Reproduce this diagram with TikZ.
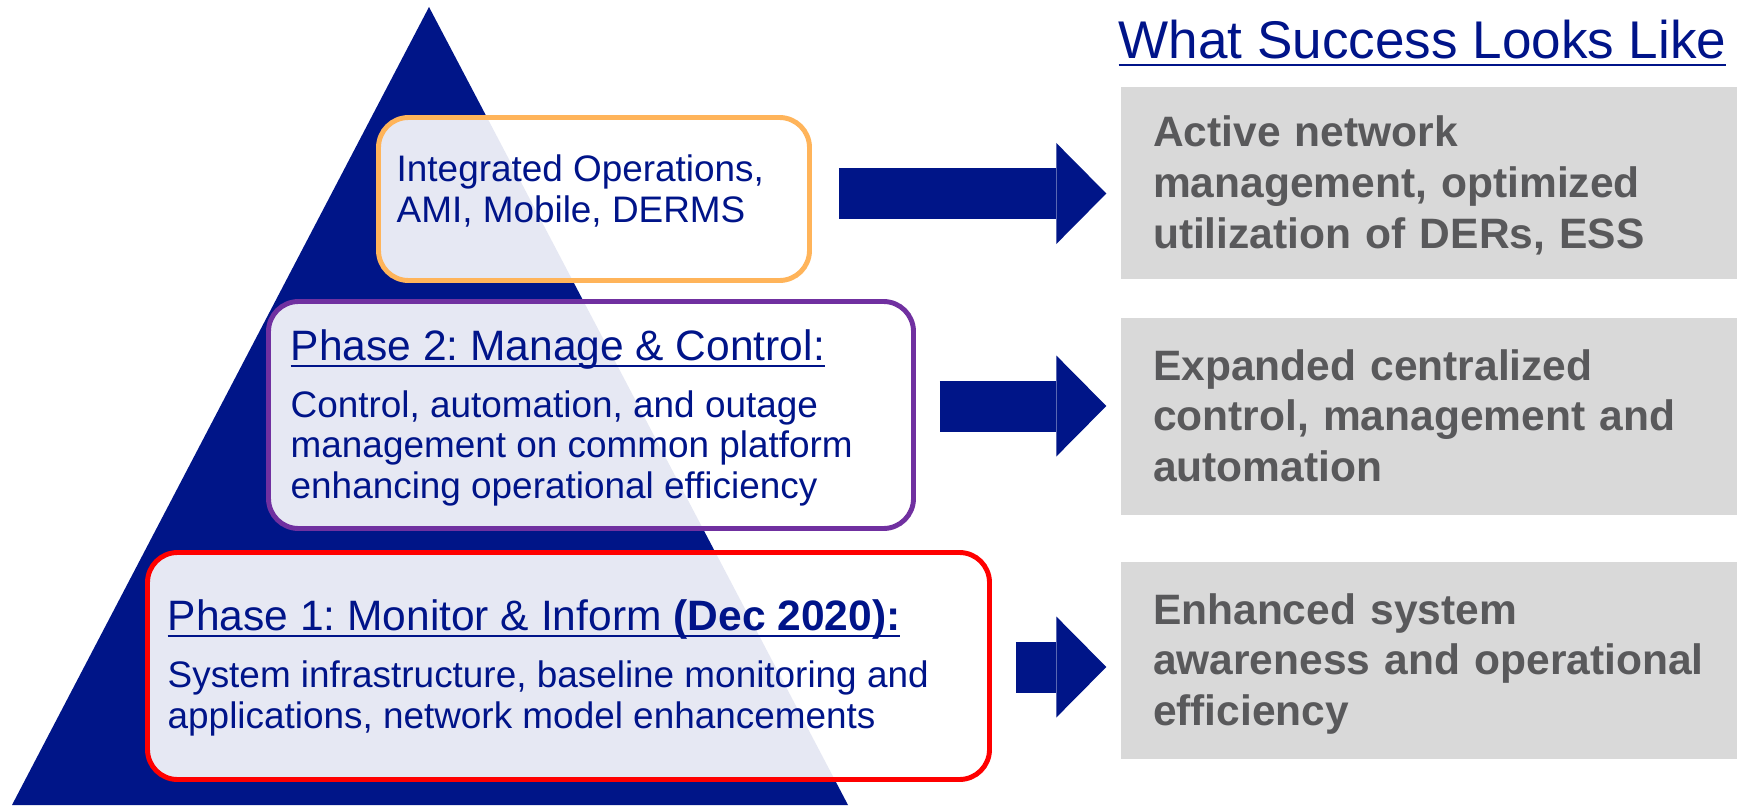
\documentclass[tikz,border=0pt]{standalone}
\usepackage{fontspec}
\setmainfont{Liberation Sans}
\usetikzlibrary{arrows.meta}
\definecolor{navy}{RGB}{0,21,136}
\definecolor{txtblue}{RGB}{0,20,137}
\definecolor{boxgray}{RGB}{217,217,217}
\definecolor{txtgray}{RGB}{89,89,91}
\definecolor{opsorange}{RGB}{255,180,90}
\definecolor{ctrlpurple}{RGB}{112,48,160}
\newsavebox\ulbox
\newcommand\underl[1]{\sbox\ulbox{#1}\rlap{\rule[-2.07pt]{\wd\ulbox}{0.75pt}}\usebox\ulbox}
\frenchspacing
\begin{document}
\begin{tikzpicture}[x=0.1mm,y=-0.1mm,
    phasebox/.style={draw,line width=1.4pt,rounded corners=3mm,fill=white,fill opacity=0.9,inner sep=0pt},
    goalbox/.style={fill=boxgray,text=txtgray,font=\fontsize{12.1}{14.5}\selectfont\bfseries,
      text width=55.2mm,align=left,inner xsep=3.2mm,inner ysep=0pt,text height=0pt,text depth=7.3mm},
    bodytext/.style={anchor=base west,inner sep=0pt,text=txtblue,align=left,font=\fontsize{10.5}{11.4}\selectfont},
    headtext/.style={anchor=base west,inner sep=0pt,text=txtblue,font=\fontsize{12.1}{14.5}\selectfont},
    bigarrow/.style={navy,line width=5.1mm,-{Triangle[length=5mm,width=10.1mm,line width=0pt]}}]
  \useasboundingbox (0,0) rectangle (1737,805);
  \fill[navy] (12,805) -- (429,7) -- (848,805) -- cycle;

  \node[phasebox,draw=opsorange,minimum width=43.1mm,minimum height=16.3mm] (opsbox) at (594,199) {};
  \node[phasebox,draw=ctrlpurple,minimum width=64.5mm,minimum height=22.7mm] (phase2box) at (591,415) {};
  \node[phasebox,draw=red,minimum width=84.2mm,minimum height=22.7mm] (phase1box) at (568.5,666) {};

  \node[bodytext] (opstext) at (396,222) {Integrated Operations,\\AMI, Mobile, DERMS};
  \node[headtext] (phase2head) at (290,360) {\underl{Phase 2: Manage \& Control:}};
  \node[bodytext] (phase2text) at (290,498) {Control, automation, and outage\\management on common platform\\enhancing operational efficiency};
  \node[headtext] (phase1head) at (167,630) {\underl{Phase 1: Monitor \& Inform \textbf{(Dec 2020):}}};
  \node[bodytext] (phase1text) at (167,728) {System infrastructure, baseline monitoring and\\applications, network model enhancements};

  \node[headtext,font=\fontsize{15.1}{18}\selectfont] (title) at (1118,59) {\underl{What Success Looks Like}};
  \node[goalbox,minimum height=19.2mm] (goalA) at (1429,183) {Active network\\management, optimized\\utilization of DERs, ESS};
  \node[goalbox,minimum height=19.7mm] (goalB) at (1429,416.5) {Expanded centralized\\control, management and\\automation};
  \node[goalbox,minimum height=19.7mm] (goalC) at (1429,660.5) {Enhanced system\\awareness and operational\\efficiency};

  \draw[bigarrow,shorten <=2.7mm,shorten >=1.4mm] (opsbox.east |- 0,193.5) -- (goalA.west |- 0,193.5);
  \draw[bigarrow,shorten <=2.4mm,shorten >=1.4mm] (phase2box.east |- 0,406) -- (goalB.west |- 0,406);
  \draw[bigarrow,shorten <=2.4mm,shorten >=1.4mm] (phase1box.east |- 0,667) -- (goalC.west |- 0,667);
\end{tikzpicture}
\end{document}
